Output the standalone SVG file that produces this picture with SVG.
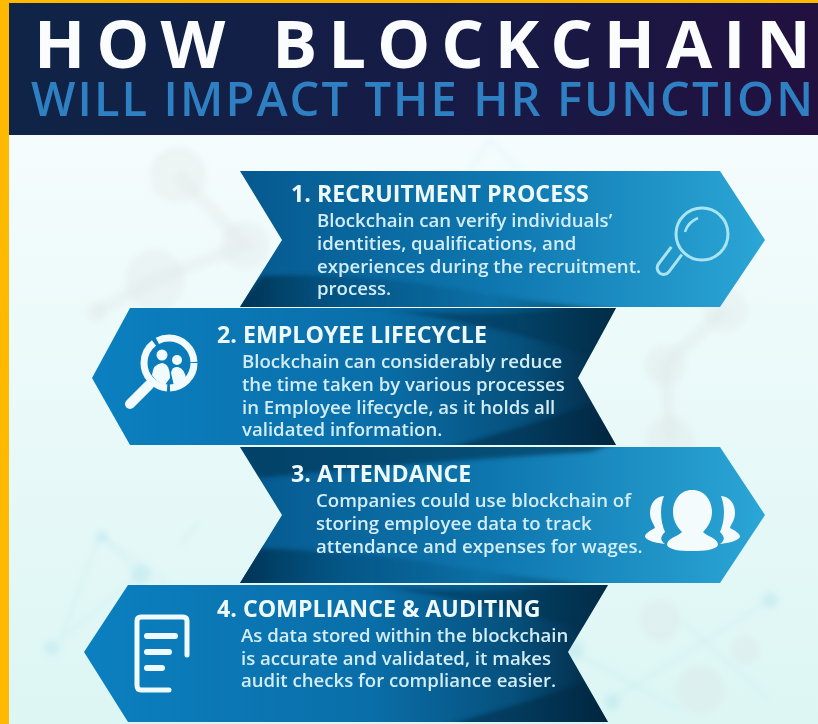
<svg xmlns="http://www.w3.org/2000/svg" width="818" height="724" viewBox="0 0 818 724">
<defs>
<linearGradient id="bg" x1="0" y1="0" x2="0" y2="1"><stop offset="0" stop-color="#f5fcfd"/><stop offset="1" stop-color="#dcf6f4"/></linearGradient>
<linearGradient id="head" x1="0" y1="0" x2="1" y2="0"><stop offset="0" stop-color="#0f2447"/><stop offset=".6" stop-color="#171a45"/><stop offset="1" stop-color="#22103f"/></linearGradient>
<linearGradient id="rib" x1="0" y1="0" x2="1" y2="0"><stop offset="0" stop-color="#05598f"/><stop offset=".5" stop-color="#0f78b0"/><stop offset="1" stop-color="#2ba6d6"/></linearGradient>
<linearGradient id="ribl" x1="0" y1="0" x2="1" y2="0"><stop offset="0" stop-color="#0b80c0"/><stop offset=".55" stop-color="#0a6ea8"/><stop offset=".82" stop-color="#06507c"/><stop offset="1" stop-color="#03263f"/></linearGradient>
<linearGradient id="foldA" x1="0" y1="0" x2="1" y2="0"><stop offset="0" stop-color="#03304f"/><stop offset=".3" stop-color="#054a75" stop-opacity=".5"/><stop offset=".65" stop-color="#054a75" stop-opacity=".15"/><stop offset="1" stop-color="#03263f" stop-opacity=".9"/></linearGradient>
<filter id="soft" x="-10%" y="-10%" width="120%" height="120%"><feGaussianBlur stdDeviation="3"/></filter>
<filter id="fold" x="-5%" y="-30%" width="110%" height="160%"><feGaussianBlur stdDeviation="2"/></filter>
<clipPath id="c1"><polygon points="240,171 720,171 765,240 720,307 240,307 282,240"/></clipPath>
<clipPath id="c2"><polygon points="130,308 616,308 578,378 616,445 130,445 92,378"/></clipPath>
<clipPath id="c3"><polygon points="240,447 720,447 765,515 720,583 240,583 282,515"/></clipPath>
<clipPath id="c4"><polygon points="128,585 608,585 568,652 608,722 128,722 84,652"/></clipPath>
</defs>
<style>
.ttl{font-family:"Open Sans","Liberation Sans",sans-serif;font-weight:700;font-size:23.2px;fill:#eef9fc}
.bd{font-family:"Open Sans","Liberation Sans",sans-serif;font-weight:600;font-size:18.6px;fill:#d3edf6}
.fg{fill:#dcdfdf;opacity:.25}
.fl{stroke:#dcdfdf;opacity:.25;fill:none;stroke-width:12}
.tc{fill:#a9e0ec;opacity:.35}
.tl{stroke:#a9e0ec;opacity:.35;fill:none;stroke-width:1.5}
</style>
<rect width="818" height="724" fill="#ffb900"/>
<rect x="9" y="134" width="809" height="590" fill="url(#bg)"/>
<g id="background-network" filter="url(#soft)">
<circle class="fg" cx="178" cy="175" r="28"/><circle class="fg" cx="245" cy="245" r="24"/><circle class="fg" cx="155" cy="280" r="30"/><circle class="fg" cx="96" cy="312" r="10"/>
<path class="fl" d="M178 175L245 245L155 280L96 312"/>
<circle class="fg" cx="665" cy="365" r="20"/><circle class="fg" cx="725" cy="310" r="22"/><circle class="fg" cx="670" cy="440" r="24"/>
<path class="fl" d="M725 310L665 365L670 440"/>
<path class="tl" d="M470 170L490 140L520 170M100 535L190 600M100 535L60 640M100 535L140 575M140 575L60 640"/>
<circle class="tc" cx="141" cy="574" r="10"/><circle class="tc" cx="102" cy="537" r="6"/><circle class="tc" cx="52" cy="648" r="7"/>
<path class="tl" d="M570 650L680 710M612 700L770 600M680 620L770 700M180 545L200 520"/>
<circle class="tc" cx="575" cy="650" r="9"/><circle class="tc" cx="612" cy="702" r="8"/><circle class="fg" cx="660" cy="620" r="20"/><circle class="fg" cx="700" cy="690" r="24"/><circle class="fg" cx="745" cy="650" r="14"/><circle class="tc" cx="770" cy="600" r="8"/>
</g>
<g id="header">
<rect x="9" y="3" width="809" height="132" fill="url(#head)"/>
<text x="34" y="68" font-family="'Open Sans','Liberation Sans',sans-serif" font-weight="700" font-size="67" fill="#fbfcfe" letter-spacing="10.9" word-spacing="8">HOW BLOCKCHAI<tspan letter-spacing="0">N</tspan></text>
<text x="31" y="116" font-family="'Open Sans','Liberation Sans',sans-serif" font-weight="600" font-size="47" fill="#2f80c2" letter-spacing="2.1">WILL IMPACT THE HR FUNCTIO<tspan letter-spacing="0">N</tspan></text>
</g>
<g id="step-1">
<polygon points="240,171 720,171 765,240 720,307 240,307 282,240" fill="url(#rib)"/>
<path clip-path="url(#c1)" filter="url(#fold)" d="M230 312L262 276Q360 272 450 288T630 312Z" fill="url(#foldA)"/>
<text class="ttl" x="291" y="202">1. RECRUITMENT PROCESS</text>
<text class="bd" x="317" y="227">Blockchain can verify individuals’</text>
<text class="bd" x="317" y="250">identities, qualifications, and</text>
<text class="bd" x="317" y="273">experiences during the recruitment.</text>
<text class="bd" x="317" y="295">process.</text>
<g fill="none" stroke="#a8e4f2" stroke-width="3">
<circle cx="702" cy="234" r="26"/>
<path d="M663 248V269.5a6.500 6.500 0 0 0 13 0V248" transform="rotate(37 669 260)"/>
<path d="M685 232Q688 222 698 218" stroke-width="2.500"/>
</g>
</g>
<g id="step-2">
<polygon points="130,308 616,308 578,378 616,445 130,445 92,378" fill="url(#ribl)"/>
<path clip-path="url(#c2)" filter="url(#fold)" d="M340 303Q470 325 620 303V330L590 355Q480 320 340 303Z" fill="#03304f" opacity=".5"/>
<path clip-path="url(#c2)" filter="url(#fold)" d="M440 450Q530 425 590 405L625 450Z" fill="#03263f" opacity=".5"/>
<text class="ttl" x="217" y="343">2. EMPLOYEE LIFECYCLE</text>
<text class="bd" x="242" y="368">Blockchain can considerably reduce</text>
<text class="bd" x="242" y="391">the time taken by various processes</text>
<text class="bd" x="242" y="414">in Employee lifecycle, as it holds all</text>
<text class="bd" x="242" y="436">validated information.</text>
<g stroke="#f1fafc" fill="none">
<circle cx="169" cy="363" r="25" stroke-width="7" stroke-dasharray="38 3 60 4 50 2"/>
<path d="M149 385L130 404" stroke-width="10" stroke-linecap="round"/>
</g>
<g fill="#f1fafc"><circle cx="162" cy="355" r="5.500"/><circle cx="177" cy="360" r="5"/>
<path d="M152 375Q153 364 162 363Q170 364 170 378L165 385Q156 382 152 375Z"/>
<path d="M171 373Q172 366 178 367Q185 369 186 379L174 386Z"/></g>
</g>
<g id="step-3">
<polygon points="240,447 720,447 765,515 720,583 240,583 282,515" fill="url(#rib)"/>
<path clip-path="url(#c3)" filter="url(#fold)" d="M230 588L260 548Q370 552 450 566T620 588Z" fill="url(#foldA)"/>
<path clip-path="url(#c3)" filter="url(#fold)" d="M235 442H620L590 452Q420 462 258 478Z" fill="#03304f" opacity=".6"/>
<text class="ttl" x="291" y="482">3. ATTENDANCE</text>
<text class="bd" x="316" y="507">Companies could use blockchain of</text>
<text class="bd" x="316" y="530">storing employee data to track</text>
<text class="bd" x="316" y="553">attendance and expenses for wages.</text>
<g fill="#f4fbfd">
<path d="M692 490C706 490 712 502 712 512C712 522 706 529 703 532C708 537 718 538 718 545C716 550 704 551 692 551C680 551 669 550 667 545C667 538 677 537 682 532C679 529 673 522 673 512C673 502 679 490 692 490Z"/>
<path d="M664 496C654 497 650 505 650 513C650 520 654 524 655 528C650 531 645 533 645 537C648 541 656 543 665 544C660 540 660 537 665 532C661 523 659 509 664 496Z"/>
<path d="M721 496C731 497 735 505 735 513C735 520 731 524 730 528C735 531 740 533 740 537C737 541 729 543 720 544C725 540 725 537 720 532C724 523 726 509 721 496Z"/>
</g>
</g>
<g id="step-4">
<polygon points="128,585 608,585 568,652 608,722 128,722 84,652" fill="url(#ribl)"/>
<path clip-path="url(#c4)" filter="url(#fold)" d="M340 580Q470 602 612 580V605L585 630Q480 600 340 580Z" fill="#03304f" opacity=".5"/>
<path clip-path="url(#c4)" filter="url(#fold)" d="M440 727Q530 702 585 682L615 727Z" fill="#03263f" opacity=".5"/>
<text class="ttl" x="217" y="617">4. COMPLIANCE &amp; AUDITING</text>
<text class="bd" x="241" y="642">As data stored within the blockchain</text>
<text class="bd" x="241" y="665">is accurate and validated, it makes</text>
<text class="bd" x="241" y="687">audit checks for compliance easier.</text>
<g fill="none" stroke="#eefafd" stroke-linecap="round">
<path d="M187 655V621Q187 617 183 617H141Q137 617 137 621V685Q137 690 141 690H169" stroke-width="5"/>
<path d="M147 636H175M147 652H169M147 668H162" stroke-width="6"/>
</g>
</g>
</svg>
